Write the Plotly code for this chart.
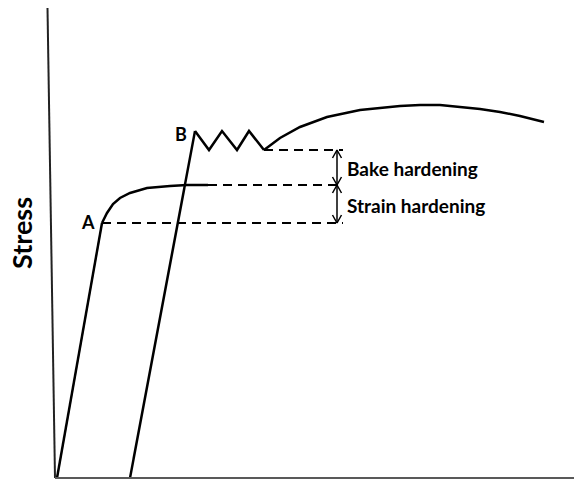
import plotly.graph_objects as go

# Schematic stress-strain curves (arbitrary units)
# Initial elastic loading up to yield point A
load_strain = [0, 45]
load_stress = [0, 255]

# Work hardening after yield point A
hard_strain = [45, 50, 56, 63, 73, 90, 113, 130, 151]
hard_stress = [255, 265, 274, 280, 285, 290, 292, 293, 293]

# Reloading after bake treatment up to upper yield point B
reload_strain = [73, 138]
reload_stress = [0, 347]

# Serrated yielding (Lüders band region)
serr_strain = [138, 152, 165, 180, 192, 207]
serr_stress = [347, 328, 347, 328, 347, 328]

# Continued hardening after yielding
cont_strain = [207, 223, 243, 270, 303, 343, 363, 383, 423, 443, 463, 487]
cont_stress = [328, 340, 351, 361, 368, 372, 373, 373, 369, 366, 362, 356]

# Reference levels
level_A = 255
level_prestrain = 293
level_bake = 328
dash_end = 286
arrow_strain = 280

fig = go.Figure()

solid = dict(color="black", width=2.5)

for xs, ys in [(load_strain, load_stress), (hard_strain, hard_stress),
               (reload_strain, reload_stress), (serr_strain, serr_stress),
               (cont_strain, cont_stress)]:
    fig.add_trace(go.Scatter(x=xs, y=ys, mode="lines", line=solid,
                             hoverinfo="skip", showlegend=False))

# Dashed guide lines at each stress level
dash_starts = [(load_strain[-1], level_A), (hard_strain[-1], level_prestrain),
               (serr_strain[-1], level_bake)]
for x0, lv in dash_starts:
    fig.add_trace(go.Scatter(x=[x0, dash_end], y=[lv, lv], mode="lines",
                             line=dict(color="black", width=2, dash="9px,6px"),
                             hoverinfo="skip", showlegend=False))

# Double-headed arrows between levels
arm_w, arm_h = 4.5, 8
def chevron(y, direction):
    # direction +1: tip points up, -1: tip points down
    return ([arrow_strain - arm_w, arrow_strain, arrow_strain + arm_w, None],
            [y - direction * arm_h, y, y - direction * arm_h, None])

ax_x, ax_y = [], []
for lo, hi in [(level_prestrain, level_bake), (level_A, level_prestrain)]:
    ax_x += [arrow_strain, arrow_strain, None]
    ax_y += [lo, hi, None]
    cx, cy = chevron(hi, 1)
    ax_x += cx
    ax_y += cy
    cx, cy = chevron(lo, -1)
    ax_x += cx
    ax_y += cy
fig.add_trace(go.Scatter(x=ax_x, y=ax_y, mode="lines",
                         line=dict(color="black", width=1.5),
                         hoverinfo="skip", showlegend=False))

# Axes drawn as lines
fig.add_trace(go.Scatter(x=[-9.5, -2], y=[470, 0], mode="lines",
                         line=dict(color="#222222", width=2),
                         hoverinfo="skip", showlegend=False))
fig.add_trace(go.Scatter(x=[-2, 517], y=[0, 0], mode="lines",
                         line=dict(color="#595959", width=2),
                         hoverinfo="skip", showlegend=False))

lbl_font = dict(family="Lato", size=19, color="black", weight="bold")
fig.add_annotation(x=288, y=(level_prestrain + level_bake) / 2 - 1, text="Bake hardening",
                   showarrow=False, xanchor="left", yanchor="middle", font=lbl_font)
fig.add_annotation(x=288, y=(level_A + level_prestrain) / 2 - 1, text="Strain hardening",
                   showarrow=False, xanchor="left", yanchor="middle", font=lbl_font)
pt_font = dict(family="Lato", size=18, color="black", weight="bold")
fig.add_annotation(x=31, y=256, text="A", showarrow=False,
                   xanchor="center", yanchor="middle", font=pt_font)
fig.add_annotation(x=123.5, y=344.5, text="B", showarrow=False,
                   xanchor="center", yanchor="middle", font=pt_font)
fig.add_annotation(x=-36, y=245, text="Stress", showarrow=False, textangle=-90,
                   xanchor="center", yanchor="middle",
                   font=dict(family="Lato", size=27, color="black", weight="bold"))

fig.update_layout(
    width=574, height=479,
    margin=dict(l=0, r=0, t=0, b=0),
    paper_bgcolor="white", plot_bgcolor="white",
    xaxis=dict(range=[-57, 517], visible=False, fixedrange=True),
    yaxis=dict(range=[-1, 478], visible=False, fixedrange=True),
    showlegend=False,
)

fig.write_html("out.html")
